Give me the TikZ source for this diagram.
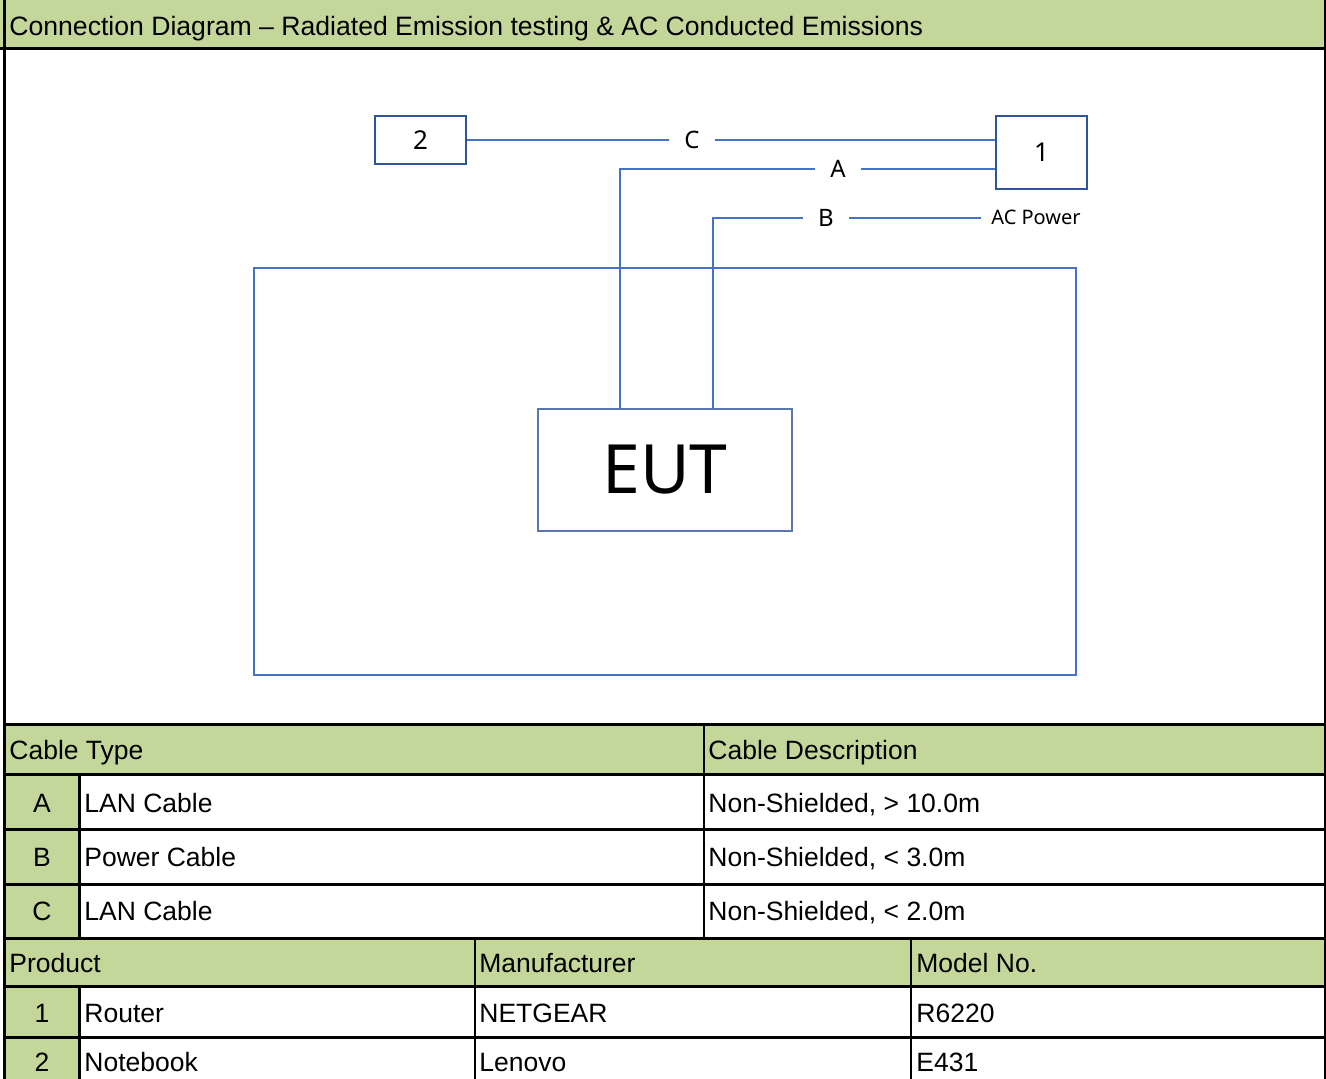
\documentclass[tikz,border=0pt]{standalone}
\usepackage{fontspec}
\setmainfont{Liberation Sans}
\newfontfamily\diagfont{Noto Sans}
\definecolor{hdrgreen}{HTML}{C4D79B}
\definecolor{cableblue}{HTML}{4472C4}
\definecolor{boxblue}{HTML}{2F5597}
\newcommand{\tabfont}{\fontsize{13.25}{15}\selectfont}

\begin{document}
\begin{tikzpicture}[x=0.5pt,y=-0.5pt,
  unit/.style={draw=boxblue,line width=0.8pt,minimum width=45.5pt,inner sep=0pt,
    font=\diagfont\fontsize{13}{15}\selectfont},
  cablelabel/.style={inner xsep=7.5pt,inner ysep=0pt,font=\diagfont\fontsize{12}{14}\selectfont},
  cable/.style={draw=cableblue,line width=0.8pt},
  cell/.style={anchor=west,inner sep=1.5pt,text height=9.4pt,text depth=0pt,font=\tabfont},
  letter/.style={inner sep=0pt,text height=9.4pt,text depth=0pt,font=\tabfont},
  grid/.style={line width=1.5pt}]
  \useasboundingbox (0,0) rectangle (1326,1079);
  % green header bands
  \fill[hdrgreen] (0,0) rectangle (1326,49);
  \fill[hdrgreen] (5,724) rectangle (1325,774);
  \fill[hdrgreen] (5,774) rectangle (79,937);
  \fill[hdrgreen] (5,937) rectangle (1325,987);
  \fill[hdrgreen] (5,987) rectangle (79,1079);
  % diagram
  \node[unit,minimum height=24pt] (b2) at (420.5,140) {2};
  \node[unit,minimum height=36.5pt] (b1) at (1041.5,152.5) {1};
  \node[draw=boxblue!80,line width=0.8pt,minimum width=127pt,minimum height=61pt,
    inner sep=0pt,font=\diagfont\fontsize{34}{40}\selectfont] (eut) at (665,470) {EUT};
  \draw[cableblue,line width=0.8pt] (254,268) rectangle (1076,675);
  \node[cablelabel] (labC) at (692,140) {C};
  \node[cablelabel] (labA) at (838,169) {A};
  \node[cablelabel] (labB) at (826,218) {B};
  \node[inner xsep=5pt,font=\diagfont\fontsize{10}{12}\selectfont] (acp) at (1036,217) {AC Power};
  \coordinate (eutA) at (620,409);
  \coordinate (eutB) at (713,409);
  \path[cable] (b2.east) -- (labC.west);
  \path[cable] (labC.east) -- (labC.east -| b1.west);
  \path[cable] (b1.west |- labA) -- (labA.east);
  \path[cable] (labA.west) -| (eutA);
  \path[cable] (eutB) |- (labB.west);
  \path[cable] (labB.east) -- (labB.east -| acp.west);
  % header and tables
  \node[cell,font=\fontsize{13.3}{15}\selectfont] (title) at (6,26) {Connection Diagram – Radiated Emission testing \& AC Conducted Emissions};
  \node[cell] (ctype) at (6,750) {Cable Type};
  \node[cell] (cdesc) at (705,750) {Cable Description};
  \node[letter] (ra) at (42,803) {A};
  \node[cell] (ra1) at (81,803) {LAN Cable};
  \node[cell] (ra2) at (705,803) {Non-Shielded, > 10.0m};
  \node[letter] (rb) at (42,857) {B};
  \node[cell] (rb1) at (81,857) {Power Cable};
  \node[cell] (rb2) at (705,857) {Non-Shielded, < 3.0m};
  \node[letter] (rc) at (42,911) {C};
  \node[cell] (rc1) at (81,911) {LAN Cable};
  \node[cell] (rc2) at (705,911) {Non-Shielded, < 2.0m};
  \node[cell] (prod) at (6,963) {Product};
  \node[cell] (manu) at (476,963) {Manufacturer};
  \node[cell] (model) at (913,963) {Model No.};
  \node[letter] (r1) at (42,1013) {1};
  \node[cell] (r1a) at (81,1013) {Router};
  \node[cell] (r1b) at (476,1013) {NETGEAR};
  \node[cell] (r1c) at (913,1013) {R6220};
  \node[letter] (r2) at (42,1062) {2};
  \node[cell] (r2a) at (81,1062) {Notebook};
  \node[cell] (r2b) at (476,1062) {Lenovo};
  \node[cell] (r2c) at (913,1062) {E431};
  % rules
  \draw[grid] (4.5,0) -- (4.5,1079);
  \draw[line width=1pt] (1325,0) -- (1325,1079);
  \draw[grid] (0,49) -- (1326,49);
  \foreach \y in {724,774,829,884,938,986,1037}
    \draw[grid] (4.5,\y) -- (1325,\y);
  \draw[grid] (79,774) -- (79,937);
  \draw[grid] (79,987) -- (79,1079);
  \draw[line width=1pt] (704,724) -- (704,938);
  \draw[line width=1pt] (474.5,938) -- (474.5,1079);
  \draw[line width=1pt] (911,938) -- (911,1079);
\end{tikzpicture}
\end{document}
